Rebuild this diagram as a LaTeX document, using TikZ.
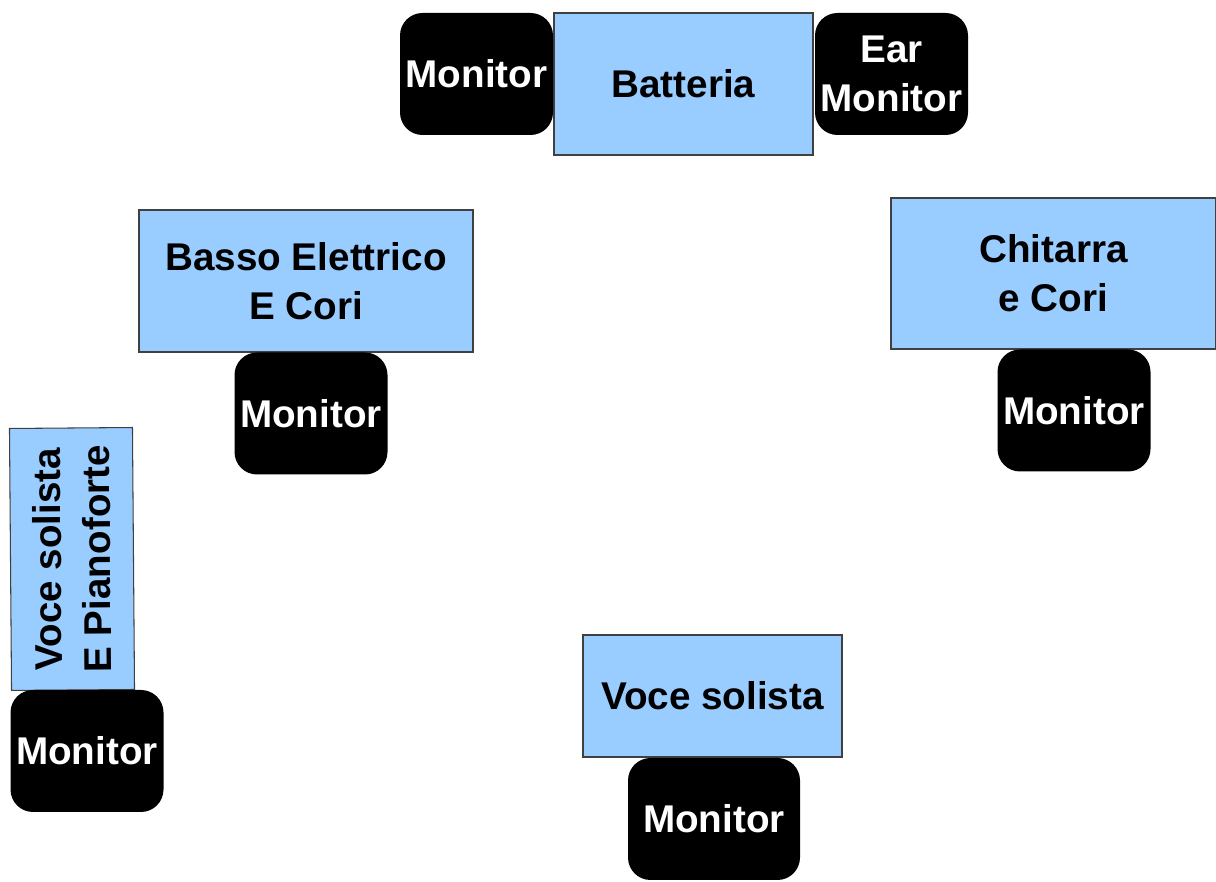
\documentclass[tikz,border=0pt]{standalone}
\usepackage{fontspec}
\setmainfont{Liberation Sans}
\definecolor{stagebox}{HTML}{99CCFF}
\begin{document}
\begin{tikzpicture}[
    mon/.style={fill=black,rounded corners=0.45cm,text=white,font=\bfseries\fontsize{22}{28}\selectfont,
      align=center,minimum width=3.06cm,minimum height=2.44cm,inner sep=0pt},
    box/.style={fill=stagebox,draw=black!75,line width=0.6pt,font=\bfseries\fontsize{22}{28}\selectfont,
      align=center,inner sep=0pt}]
      \useasboundingbox (0,0) rectangle (24.32,17.64);
      \node[box,minimum width=5.18cm,minimum height=2.84cm] (batt) at (13.67,15.96) {Batteria};
      \node[mon] (monbatt) at (9.53,16.16) {Monitor};
      \node[mon] (ear) at (17.83,16.16) {Ear\\Monitor};
      \node[box,minimum width=6.68cm,minimum height=2.84cm] (basso) at (6.12,12.02) {Basso Elettrico\\E Cori};
      \node[mon] (monbasso) at (6.22,9.37) {Monitor};
      \node[box,minimum width=6.5cm,minimum height=3.02cm] (chit) at (21.07,12.17) {Chitarra\\e Cori};
      \node[mon] (monchit) at (21.48,9.43) {Monitor};
      \node[box,minimum width=5.24cm,minimum height=2.46cm,rotate=90.45] (piano) at (1.44,6.46) {Voce solista\\E Pianoforte};
      \node[mon] (monpiano) at (1.74,2.62) {Monitor};
      \node[box,minimum width=5.18cm,minimum height=2.44cm] (voce) at (14.25,3.72) {Voce solista};
      \node[mon,minimum width=3.44cm] (monvoce) at (14.28,1.26) {Monitor};
    \end{tikzpicture}
\end{document}
